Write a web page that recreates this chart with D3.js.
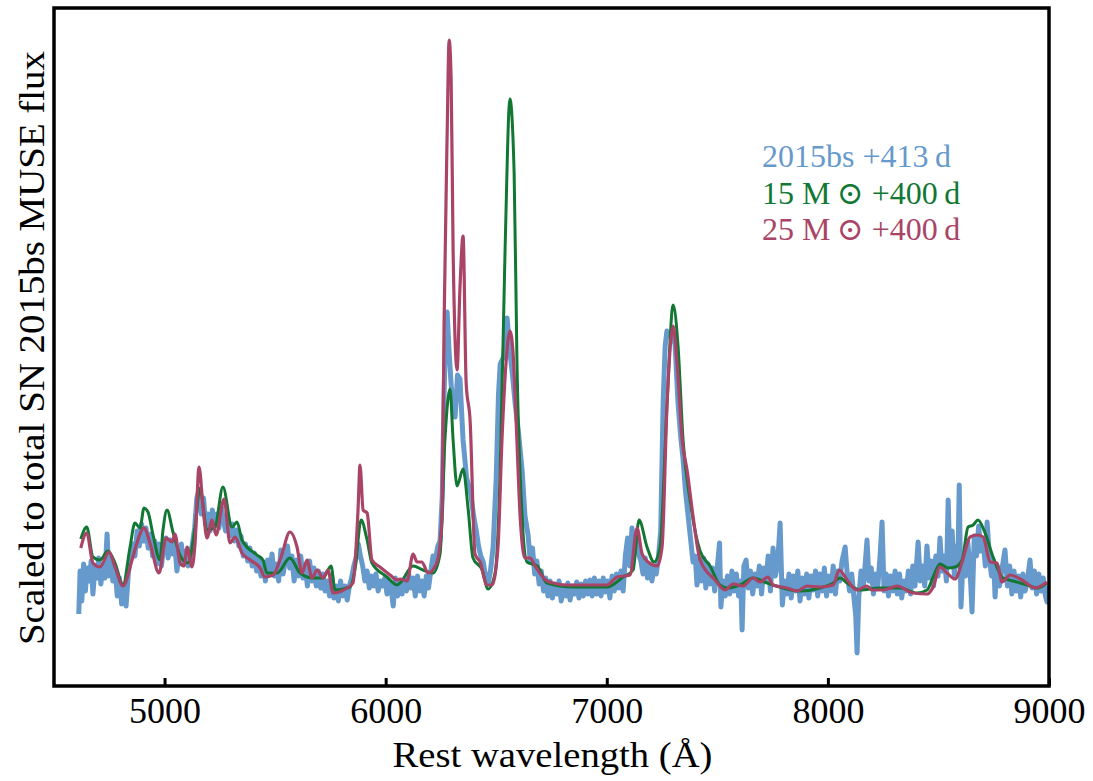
<!DOCTYPE html>
<head>
  <meta charset="utf-8">
  <title>SN 2015bs nebular spectrum</title>
  <script src="https://d3js.org/d3.v7.min.js"></script>
</head>
<body style="margin:0;background:#fff">
  <style>
  text { font-family: "Liberation Serif", "DejaVu Serif", serif; }
  .tick line { stroke: #000; stroke-width: 3px; }
  .tick text { font-size: 36px; fill: #000; }
  </style>
  <script>
    // x ticks (Angstrom)
    var xTicks = [5000, 6000, 7000, 8000, 9000];

    // SN 2015bs, +413 d (observed, noisy) -- [wavelength, scaled flux]
    var obs2015bs = [
      [4612,0.72],[4618,1.15],[4626,0.85],[4634,1.22],[4642,0.95],[4650,1.18],[4660,1.05],[4668,1.25],
      [4676,0.92],[4686,1.20],[4694,1.08],[4702,1.28],[4712,1.02],[4722,1.22],[4730,1.08],[4740,1.52],
      [4748,1.10],[4758,1.28],[4766,1.05],[4776,1.18],[4786,0.90],[4796,1.08],[4806,0.82],[4816,1.02],
      [4826,0.80],[4836,1.12],[4846,1.30],[4856,1.42],[4866,1.30],[4876,1.55],[4886,1.40],[4896,1.62],
      [4906,1.45],[4916,1.58],[4926,1.38],[4936,1.52],[4946,1.30],[4956,1.45],[4966,1.22],[4976,1.42],
      [4986,1.20],[4996,1.40],[5006,1.48],[5016,1.28],[5026,1.46],[5036,1.32],[5046,1.42],[5056,1.15],
      [5066,1.32],[5076,1.42],[5086,1.22],[5096,1.35],[5106,1.20],[5116,1.30],[5126,1.42],[5136,1.58],
      [5146,1.88],[5156,1.96],[5166,1.72],[5176,1.88],[5186,1.62],[5196,1.72],[5206,1.55],[5216,1.76],
      [5226,1.60],[5236,1.72],[5246,1.58],[5256,1.80],[5266,1.66],[5276,1.55],[5286,1.68],[5296,1.50],
      [5306,1.62],[5316,1.45],[5326,1.56],[5336,1.40],[5346,1.50],[5356,1.30],[5366,1.42],[5376,1.25],
      [5386,1.38],[5396,1.20],[5406,1.33],[5416,1.15],[5426,1.28],[5436,1.10],[5446,1.24],[5456,1.05],
      [5466,1.26],[5476,1.12],[5486,1.32],[5496,1.10],[5506,1.22],[5516,1.05],[5526,1.36],[5536,1.12],
      [5546,1.25],[5556,1.40],[5566,1.18],[5576,1.30],[5586,1.05],[5596,1.26],[5606,1.10],[5616,1.30],
      [5626,1.08],[5636,1.20],[5646,1.00],[5656,1.25],[5666,1.05],[5676,1.18],[5686,1.00],[5696,1.15],
      [5706,0.98],[5716,1.12],[5726,0.95],[5736,1.05],[5746,0.90],[5756,1.10],[5766,0.88],[5776,1.00],
      [5786,0.85],[5796,1.05],[5806,0.90],[5816,1.00],[5826,0.86],[5836,1.00],[5846,1.08],[5856,1.20],
      [5866,1.28],[5876,1.42],[5886,1.30],[5896,1.20],[5906,1.05],[5916,1.15],[5926,0.98],[5936,1.10],
      [5946,1.00],[5956,1.12],[5966,0.95],[5976,1.05],[5986,1.00],[5996,1.08],[6006,0.92],[6016,1.05],
      [6026,0.95],[6034,0.80],[6044,1.08],[6054,0.90],[6064,1.05],[6074,0.92],[6084,1.06],[6094,0.95],
      [6104,1.12],[6114,0.98],[6124,1.08],[6134,0.90],[6144,1.10],[6154,0.95],[6164,1.05],[6174,0.90],
      [6184,1.10],[6194,0.98],[6204,1.15],[6214,1.30],[6224,1.25],[6236,1.40],[6246,1.45],[6256,1.90],
      [6264,2.90],[6272,3.60],[6278,3.74],[6287,3.34],[6295,3.05],[6302,2.84],[6314,2.69],[6325,3.11],
      [6336,3.07],[6350,2.46],[6366,2.08],[6384,1.93],[6398,1.70],[6410,1.55],[6420,1.40],[6430,1.30],
      [6441,1.24],[6452,1.10],[6463,1.02],[6474,1.15],[6486,1.39],[6500,2.08],[6510,2.90],[6518,3.22],
      [6535,3.30],[6549,3.68],[6562,3.34],[6574,3.10],[6585,2.84],[6599,2.57],[6617,2.16],[6630,1.70],
      [6644,1.51],[6654,1.25],[6664,1.38],[6674,1.12],[6684,1.25],[6694,1.02],[6704,1.15],[6714,0.95],
      [6724,1.08],[6734,0.90],[6744,1.05],[6754,0.88],[6764,1.02],[6774,0.92],[6784,1.05],[6794,0.85],
      [6804,1.00],[6814,0.90],[6824,1.03],[6834,0.86],[6844,1.00],[6854,0.92],[6864,1.04],[6874,0.88],
      [6884,1.02],[6894,0.90],[6904,1.05],[6914,0.92],[6924,1.06],[6934,0.90],[6944,1.08],[6954,0.92],
      [6964,1.05],[6974,0.90],[6984,1.08],[6994,0.94],[7004,1.05],[7014,0.88],[7024,1.10],[7034,0.95],
      [7044,1.12],[7054,0.98],[7064,1.15],[7074,0.95],[7084,1.30],[7094,1.48],[7104,1.20],[7114,1.58],
      [7124,1.40],[7134,1.50],[7144,1.32],[7154,1.25],[7164,1.12],[7174,1.28],[7184,1.08],[7194,1.20],
      [7204,1.05],[7214,1.18],[7224,1.12],[7234,1.30],[7244,1.55],[7255,2.84],[7264,3.40],[7272,3.55],
      [7283,3.50],[7295,3.53],[7309,3.41],[7322,2.84],[7334,2.50],[7345,2.27],[7356,1.95],[7368,1.70],
      [7380,1.45],[7390,1.24],[7400,1.30],[7408,1.01],[7418,1.25],[7428,1.05],[7438,1.28],[7448,0.98],
      [7458,1.22],[7468,1.02],[7478,1.18],[7488,0.95],[7498,1.15],[7510,1.43],[7516,0.79],[7526,1.05],
      [7536,0.90],[7546,1.10],[7556,0.92],[7566,1.15],[7576,0.95],[7586,1.12],[7596,0.90],[7606,1.05],
      [7612,0.56],[7620,1.20],[7630,1.26],[7640,0.98],[7650,1.15],[7660,0.92],[7670,1.12],[7680,1.00],
      [7690,1.20],[7700,0.92],[7710,1.18],[7720,1.05],[7730,1.30],[7740,0.95],[7752,1.38],[7762,1.10],
      [7772,1.20],[7784,1.63],[7794,0.81],[7804,1.05],[7814,0.92],[7824,1.12],[7834,0.88],[7844,1.10],
      [7854,0.95],[7864,1.15],[7874,0.85],[7884,1.08],[7894,0.92],[7904,1.12],[7914,0.88],[7924,1.10],
      [7934,0.96],[7944,1.15],[7954,0.90],[7964,1.12],[7974,0.95],[7984,1.18],[7994,0.90],[8004,1.10],
      [8014,0.95],[8024,1.20],[8034,0.92],[8044,1.15],[8054,1.05],[8064,1.25],[8078,1.39],[8088,1.10],
      [8098,0.95],[8108,1.12],[8118,0.88],[8126,0.70],[8132,0.33],[8140,0.90],[8150,1.15],[8160,0.98],
      [8168,1.20],[8177,1.46],[8186,1.05],[8196,1.18],[8206,0.92],[8216,1.12],[8226,1.00],[8236,1.30],
      [8245,1.64],[8254,0.95],[8264,1.12],[8274,0.90],[8284,1.10],[8294,0.95],[8304,1.15],[8314,0.92],
      [8324,1.12],[8334,0.88],[8344,1.05],[8354,0.95],[8364,1.15],[8374,0.92],[8384,1.20],[8394,1.00],
      [8408,1.44],[8418,1.05],[8428,1.20],[8438,1.00],[8448,1.40],[8458,1.08],[8468,1.25],[8478,1.00],
      [8488,1.30],[8498,1.10],[8507,1.48],[8516,1.15],[8526,1.30],[8536,1.05],[8544,1.86],[8552,1.20],
      [8562,1.55],[8572,1.10],[8580,1.40],[8588,1.20],[8594,2.01],[8602,0.79],[8612,1.30],[8622,1.10],
      [8632,1.45],[8642,1.20],[8652,0.74],[8662,1.50],[8672,1.30],[8682,1.60],[8692,1.35],[8702,1.45],
      [8712,1.20],[8720,1.64],[8730,1.30],[8740,1.10],[8750,1.25],[8756,0.89],[8766,1.20],[8776,1.00],
      [8786,1.15],[8801,1.36],[8812,1.00],[8822,1.20],[8832,0.92],[8842,1.15],[8852,0.95],[8862,1.10],
      [8872,0.89],[8882,1.12],[8892,0.95],[8902,1.05],[8914,1.26],[8924,0.98],[8934,1.15],[8944,0.92],
      [8954,1.12],[8964,0.95],[8974,1.08],[8984,0.90],[8991,0.84],[8998,1.00]
    ];

    // 15 Msun model, +400 d
    var model15 = [
      [4621,1.47],[4648,1.59],[4676,1.29],[4708,1.26],[4744,1.35],[4776,1.23],[4812,1.01],[4844,1.39],
      [4866,1.63],[4889,1.58],[4907,1.78],[4925,1.74],[4948,1.51],[4979,1.26],[4993,1.56],[5011,1.76],
      [5038,1.54],[5074,1.29],[5106,1.23],[5138,1.59],[5160,1.98],[5192,1.56],[5228,1.59],[5264,1.99],
      [5305,1.59],[5328,1.64],[5350,1.46],[5418,1.31],[5445,1.26],[5463,1.13],[5509,1.13],[5567,1.28],
      [5613,1.13],[5671,1.08],[5717,1.08],[5753,1.20],[5771,0.96],[5839,0.99],[5861,1.16],[5889,1.66],
      [5916,1.46],[5938,1.23],[6006,1.09],[6051,1.01],[6065,1.03],[6124,1.20],[6169,1.16],[6214,1.13],
      [6246,1.32],[6268,2.46],[6291,2.97],[6305,2.46],[6323,2.00],[6350,2.17],[6373,1.77],[6395,1.28],
      [6436,1.16],[6463,0.97],[6495,1.13],[6517,2.08],[6540,4.36],[6562,5.87],[6581,5.13],[6594,3.22],
      [6617,1.70],[6639,1.24],[6685,1.20],[6730,1.03],[6847,0.99],[7001,0.99],[7074,1.09],[7119,1.16],
      [7146,1.66],[7182,1.39],[7214,1.24],[7241,1.39],[7273,2.84],[7300,3.81],[7322,3.41],[7345,2.46],
      [7377,1.85],[7422,1.35],[7467,1.20],[7512,1.01],[7544,0.98],[7603,1.01],[7662,1.08],[7725,1.03],
      [7797,0.98],[7874,0.95],[7965,0.98],[8024,1.03],[8055,1.08],[8087,1.03],[8146,0.96],[8236,0.98],
      [8326,0.98],[8403,0.93],[8449,0.96],[8476,1.09],[8507,1.22],[8544,1.18],[8575,1.19],[8607,1.26],
      [8634,1.59],[8657,1.61],[8679,1.66],[8711,1.53],[8747,1.29],[8792,1.08],[8838,1.05],[8901,1.01],
      [8946,0.98],[8991,1.03]
    ];

    // 25 Msun model, +400 d
    var model25 = [
      [4621,1.38],[4648,1.53],[4676,1.23],[4708,1.19],[4749,1.34],[4776,1.19],[4812,1.00],[4853,1.26],
      [4875,1.43],[4907,1.58],[4934,1.43],[4975,1.13],[5007,1.48],[5034,1.44],[5047,1.52],[5070,1.23],
      [5088,1.20],[5102,1.39],[5124,1.19],[5138,1.43],[5156,2.19],[5174,1.79],[5192,1.48],[5215,1.66],
      [5233,1.51],[5269,1.87],[5296,1.43],[5319,1.49],[5350,1.33],[5387,1.26],[5432,1.18],[5454,1.09],
      [5491,1.11],[5527,1.29],[5567,1.54],[5599,1.39],[5622,1.13],[5644,1.26],[5667,1.08],[5690,1.16],
      [5717,1.08],[5739,1.16],[5762,0.93],[5825,0.98],[5852,1.03],[5875,1.76],[5884,2.21],[5898,1.76],
      [5916,1.73],[5938,1.26],[5974,1.19],[6020,1.11],[6051,1.06],[6065,1.07],[6097,1.05],[6124,1.32],
      [6142,1.24],[6164,1.24],[6192,1.13],[6232,1.24],[6255,1.70],[6264,3.60],[6278,5.51],[6287,6.46],
      [6296,6.08],[6305,4.36],[6323,3.16],[6336,3.98],[6350,4.50],[6364,3.03],[6382,2.65],[6404,1.32],
      [6427,1.24],[6458,1.01],[6481,1.01],[6508,1.39],[6526,2.46],[6544,3.22],[6562,3.55],[6576,3.34],
      [6590,2.65],[6608,1.70],[6630,1.28],[6653,1.28],[6676,1.20],[6730,1.05],[6820,1.01],[7001,1.01],
      [7047,1.09],[7105,1.11],[7137,1.58],[7160,1.32],[7187,1.24],[7228,1.20],[7250,1.39],[7273,2.84],
      [7291,3.49],[7300,3.60],[7318,3.22],[7341,2.46],[7363,2.16],[7390,1.70],[7422,1.26],[7490,1.06],
      [7535,0.96],[7571,1.02],[7616,1.00],[7662,1.08],[7693,1.04],[7729,1.09],[7752,1.01],[7815,0.98],
      [7861,0.95],[7906,1.00],[7965,0.99],[8024,1.01],[8051,1.16],[8087,1.06],[8132,0.96],[8177,1.00],
      [8200,0.96],[8250,0.96],[8313,1.00],[8385,0.93],[8449,0.92],[8476,0.99],[8507,1.19],[8539,1.13],
      [8575,1.07],[8607,1.24],[8643,1.49],[8675,1.51],[8702,1.49],[8734,1.24],[8765,1.23],[8788,1.04],
      [8824,1.11],[8878,1.06],[8937,0.98],[8991,1.04]
    ];

    var legendLabels = ['2015bs +413\u2009d', '15 M\u2009\u2299 +400\u2009d', '25 M\u2009\u2299 +400\u2009d'];
    var colors = ['#6699cc', '#117733', '#aa4466'];

    var width = 1093;
    var height = 781;
    var padL = 54, padR = 1049, padT = 8, padB = 686;

    var svg = d3.select('body').append('svg').attr('width', width).attr('height', height);

    var xscale = d3.scaleLinear().domain([4500, 9000]).range([padL, padR]);
    var yscale = d3.scaleLinear().domain([0, 6.78]).range([padB, padT]);

    svg.append('clipPath').attr('id', 'plotclip')
      .append('rect').attr('x', padL).attr('y', padT)
      .attr('width', padR - padL).attr('height', padB - padT);

    var rawLine = d3.line()
      .x(function(d) {return xscale(d[0]);})
      .y(function(d) {return yscale(d[1]);});

    // models are smooth curves
    var smoothLine = d3.line()
      .curve(d3.curveMonotoneX)
      .x(function(d) {return xscale(d[0]);})
      .y(function(d) {return yscale(d[1]);});

    var series = [obs2015bs, model15, model25];
    var widths = [5, 3, 3.2];
    var lines = [rawLine, smoothLine, smoothLine];

    var plot = svg.append('g').attr('clip-path', 'url(#plotclip)');
    series.forEach(function(s, i) {
      plot.append('path')
        .datum(s)
        .attr('d', lines[i])
        .attr('fill', 'none')
        .attr('stroke', colors[i])
        .attr('stroke-width', widths[i])
        .attr('stroke-linejoin', 'round');
    });

    // x axis, inward ticks
    var axisx = d3.axisBottom(xscale).tickValues(xTicks).tickSizeInner(-8).tickSizeOuter(0)
      .tickPadding(11).tickFormat(d3.format('d'));
    var gx = svg.append('g')
      .attr('transform', 'translate(0,' + padB + ')')
      .call(axisx);
    gx.select('.domain').remove();
    gx.selectAll('text').attr('font-family', null);

    // frame
    svg.append('rect')
      .attr('x', padL).attr('y', padT)
      .attr('width', padR - padL).attr('height', padB - padT)
      .attr('fill', 'none').attr('stroke', '#000').attr('stroke-width', 3.5);

    svg.append('text')
      .attr('x', (padL + padR) / 2 + 1).attr('y', 767)
      .attr('text-anchor', 'middle')
      .attr('font-size', 36)
      .attr('textLength', 320).attr('lengthAdjust', 'spacingAndGlyphs')
      .text('Rest wavelength (\u00c5)');

    svg.append('text')
      .attr('transform', 'translate(44,' + 348 + ') rotate(-90)')
      .attr('text-anchor', 'middle')
      .attr('font-size', 36)
      .attr('textLength', 594).attr('lengthAdjust', 'spacingAndGlyphs')
      .text('Scaled to total SN 2015bs MUSE flux');

    var legendY = [167, 204, 240];
    legendLabels.forEach(function(t, i) {
      svg.append('text')
        .attr('x', 762).attr('y', legendY[i])
        .attr('font-size', 32)
        .attr('fill', colors[i])
        .text(t);
    });
  </script>
</body>
